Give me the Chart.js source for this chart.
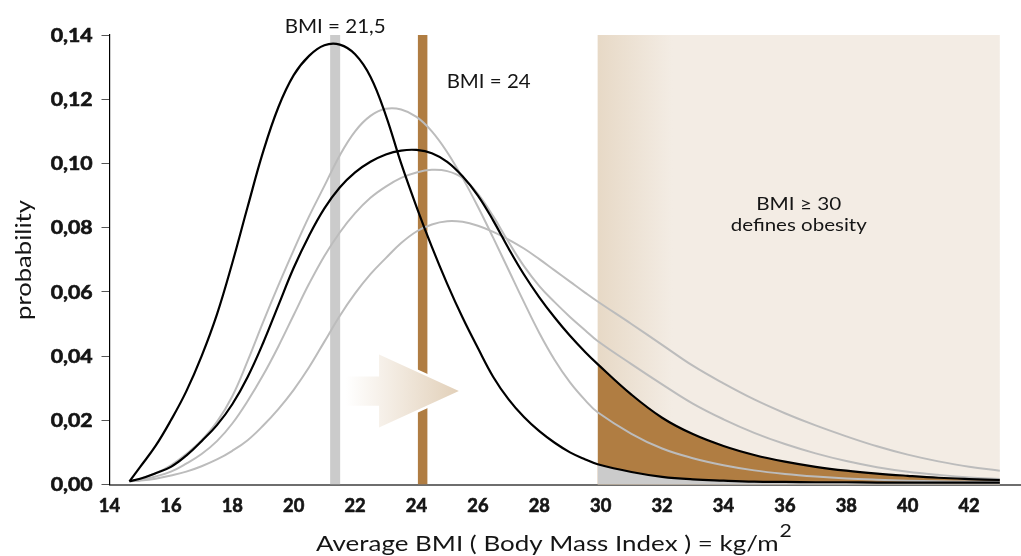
<!DOCTYPE html>
<html>
<head>
<meta charset="utf-8">
<script src="https://cdn.jsdelivr.net/npm/chart.js@4.4.1/dist/chart.umd.min.js"></script>
<style>
html,body{margin:0;padding:0;background:#fff;}
canvas{display:block;}
</style>
</head>
<body>
<canvas id="c" width="1021" height="556"></canvas>
<script>
// ---- data ----
const bmi = [14.65, 15, 15.5, 16, 16.5, 17, 17.5, 18, 18.5, 19, 19.5, 20, 20.5, 21, 21.5, 22, 22.5, 23, 23.5, 24, 24.5, 25, 25.5, 26, 26.5, 27, 27.5, 28, 28.5, 29, 29.5, 29.9, 31, 32, 33, 34, 35, 36, 37, 38, 39, 40, 41, 42, 43];

const blackTall = [0.001, 0.0055, 0.012, 0.020, 0.029, 0.040, 0.053, 0.069, 0.0865, 0.1035, 0.1175, 0.1275, 0.1335, 0.1368, 0.1370, 0.1340, 0.127, 0.115, 0.100, 0.0865, 0.074, 0.0625, 0.052, 0.0425, 0.0335, 0.0265, 0.021, 0.0166, 0.013, 0.010, 0.0078, 0.0063, 0.0039, 0.0024, 0.0016, 0.0012, 0.0009, 0.0008, 0.0007, 0.0007, 0.0006, 0.0006, 0.0006, 0.0006, 0.0006];

const blackLow = [0.001, 0.0018, 0.0035, 0.0055, 0.009, 0.0135, 0.0185, 0.025, 0.0335, 0.044, 0.0558, 0.0675, 0.0775, 0.086, 0.0925, 0.0972, 0.1005, 0.1028, 0.1040, 0.1042, 0.1032, 0.1005, 0.096, 0.090, 0.0822, 0.0735, 0.0654, 0.0583, 0.052, 0.0463, 0.0412, 0.0375, 0.028, 0.0208, 0.0157, 0.012, 0.0092, 0.0071, 0.0055, 0.0043, 0.0034, 0.0027, 0.0021, 0.0017, 0.0014];

const grayHigh = [0.001, 0.0018, 0.0035, 0.006, 0.0095, 0.0138, 0.0195, 0.0275, 0.0385, 0.0505, 0.0620, 0.0730, 0.0835, 0.0930, 0.1025, 0.1100, 0.1148, 0.1170, 0.1168, 0.1145, 0.1100, 0.1035, 0.0955, 0.0865, 0.0768, 0.0668, 0.0568, 0.0472, 0.0388, 0.0318, 0.0262, 0.0225, 0.0158, 0.0112, 0.0082, 0.0060, 0.0044, 0.0033, 0.0025, 0.0019, 0.0015, 0.0012, 0.001, 0.0009, 0.0008];

const grayMid = [0.001, 0.0014, 0.0025, 0.004, 0.0065, 0.0095, 0.0135, 0.019, 0.026, 0.034, 0.043, 0.0528, 0.0625, 0.0712, 0.0785, 0.0845, 0.0893, 0.0928, 0.0955, 0.0972, 0.0980, 0.0976, 0.0955, 0.0905, 0.0835, 0.0755, 0.0680, 0.0618, 0.0568, 0.0522, 0.0480, 0.0447, 0.0375, 0.0312, 0.0252, 0.0203, 0.0161, 0.0126, 0.0097, 0.0073, 0.0054, 0.0040, 0.0030, 0.0022, 0.0017];

const grayFlat = [0.001, 0.0012, 0.0018, 0.0028, 0.004, 0.0057, 0.0078, 0.0105, 0.0138, 0.0183, 0.0235, 0.0295, 0.0365, 0.0445, 0.0525, 0.0595, 0.0655, 0.0705, 0.0752, 0.0788, 0.081, 0.082, 0.0818, 0.0806, 0.0787, 0.0763, 0.0735, 0.0702, 0.0667, 0.0632, 0.0597, 0.0570, 0.050, 0.0435, 0.037, 0.0315, 0.0265, 0.0222, 0.0184, 0.015, 0.0119, 0.0093, 0.0072, 0.0055, 0.0043];

const xTicks = [14, 16, 18, 20, 22, 24, 26, 28, 30, 32, 34, 36, 38, 40, 42];
const yTicks = [0, 0.02, 0.04, 0.06, 0.08, 0.10, 0.12, 0.14];

const refBMI = [21.35, 24.2];
const refLabels = ['BMI = 21,5', 'BMI = 24'];
const obesityFrom = 29.9;
const obesityTo = 43;
const obesityLabels = ['BMI \u2265 30', 'defines obesity'];
const arrowFrom = 21.7, arrowHeadBase = 22.78, arrowTo = 25.38, arrowLevel = 0.0291;
const yTitle = 'probability';
const xTitle = 'Average BMI ( Body Mass Index ) = kg/m';
const xTitleSup = '2';

// ---- helpers ----
const pts = s => bmi.map((x, i) => ({x: x, y: s[i]}));
const tailStart = bmi.indexOf(obesityFrom);
const tail = s => pts(s).slice(tailStart);
const vbar = x => [{x: x, y: 0}, {x: x, y: 0.14}];

const BROWN = '#b07d42';
const GRAYBAR = '#cbcbcb';
const GRAYLINE = '#bcbcbc';
const FONT = 'Lato, "Open Sans", sans-serif';
const TXT = '#151515';

function stretchText(ctx, str, x, y, font, o) {
  ctx.save();
  ctx.font = font;
  const w = ctx.measureText(str).width;
  const sx = o.width ? o.width / w : (o.sx || 1);
  const tw = w * sx;
  let x0 = x;
  if (o.align === 'center') x0 = x - tw / 2;
  else if (o.align === 'right') x0 = x - tw;
  ctx.translate(x0, y);
  ctx.scale(sx, 1);
  ctx.textAlign = 'left';
  ctx.textBaseline = 'alphabetic';
  ctx.fillStyle = o.color || TXT;
  ctx.fillText(str, 0, 0);
  if (o.bold) { ctx.lineWidth = o.bold; ctx.strokeStyle = o.color || TXT; ctx.strokeText(str, 0, 0); }
  ctx.restore();
  return tw;
}

const decor = {
  id: 'decor',
  beforeDatasetsDraw(chart) {
    const {ctx, scales: {x, y}} = chart;
    const l = x.getPixelForValue(obesityFrom), r = x.getPixelForValue(obesityTo);
    const t = y.getPixelForValue(0.14), b = y.getPixelForValue(0);
    const g = ctx.createLinearGradient(l, 0, l + 75, 0);
    g.addColorStop(0, '#e7d9c6');
    g.addColorStop(1, '#f3ece4');
    ctx.save();
    ctx.fillStyle = g;
    ctx.fillRect(l, t, r - l, b - t);
    ctx.restore();
  },
  afterDatasetsDraw(chart) {
    const {ctx, scales: {x, y}} = chart;
    const x0 = x.getPixelForValue(arrowFrom), xb = x.getPixelForValue(arrowHeadBase), x1 = x.getPixelForValue(arrowTo);
    const yc = y.getPixelForValue(arrowLevel);
    const sh = 14.6, hh = 36.5;
    ctx.save();
    ctx.beginPath();
    ctx.moveTo(x0, yc - sh);
    ctx.lineTo(xb, yc - sh);
    ctx.lineTo(xb, yc - hh);
    ctx.lineTo(x1, yc);
    ctx.lineTo(xb, yc + hh);
    ctx.lineTo(xb, yc + sh);
    ctx.lineTo(x0, yc + sh);
    ctx.closePath();
    ctx.lineJoin = 'miter';
    ctx.lineWidth = 5;
    ctx.strokeStyle = '#ffffff';
    ctx.stroke();
    const g = ctx.createLinearGradient(x0, 0, x1, 0);
    g.addColorStop(0, '#ffffff');
    g.addColorStop(1, '#e2d0b9');
    ctx.fillStyle = g;
    ctx.fill();
    ctx.restore();
  },
  afterDraw(chart) {
    const {ctx, chartArea: ca, scales: {x, y}} = chart;
    // y tick labels
    yTicks.forEach(v => {
      const py = y.getPixelForValue(v);
      stretchText(ctx, v.toFixed(2).replace('.', ','), ca.left - 16.8, py + 6.8, 'bold 18px ' + FONT, {align: 'right', width: 42, bold: 0.6});
    });
    // x tick labels
    xTicks.forEach(v => {
      const px = x.getPixelForValue(v);
      stretchText(ctx, String(v), px, ca.bottom + 27.2, 'bold 18px ' + FONT, {align: 'center', sx: 1.02, bold: 0.6});
    });
    // reference labels
    const g1 = x.getPixelForValue(refBMI[0]);
    stretchText(ctx, refLabels[0], g1, ca.top - 2, '19px ' + FONT, {align: 'center', width: 101});
    const g2 = x.getPixelForValue(refBMI[1]);
    stretchText(ctx, refLabels[1], g2 + 24, ca.top + 53, '19px ' + FONT, {align: 'left', width: 84});
    // obesity text
    const oc = (x.getPixelForValue(obesityFrom) + x.getPixelForValue(obesityTo)) / 2;
    stretchText(ctx, obesityLabels[0], oc, 210, '18px ' + FONT, {align: 'center', width: 85});
    stretchText(ctx, obesityLabels[1], oc, 231, '18px ' + FONT, {align: 'center', width: 136});
    // y title (rotated)
    ctx.save();
    ctx.translate(31, 260);
    ctx.rotate(-Math.PI / 2);
    stretchText(ctx, yTitle, 0, 0, '21px ' + FONT, {align: 'center', width: 120});
    ctx.restore();
    // x title with superscript
    ctx.save();
    ctx.font = '22px ' + FONT;
    const w1 = ctx.measureText(xTitle).width;
    ctx.font = '18px ' + FONT;
    const w2 = ctx.measureText(xTitleSup).width;
    ctx.restore();
    const sx = 476 / (w1 + w2 + 1);
    const left = 316;
    stretchText(ctx, xTitle, left, 550.5, '22px ' + FONT, {align: 'left', sx: sx});
    stretchText(ctx, xTitleSup, left + w1 * sx + 1, 537, '18px ' + FONT, {align: 'left', sx: sx});
  }
};

const lineDs = (data, color, width) => ({
  data: data, borderColor: color, borderWidth: width, fill: false,
  pointRadius: 0, tension: 0.4, cubicInterpolationMode: 'default'
});

new Chart(document.getElementById('c'), {
  type: 'line',
  data: {
    datasets: [
      lineDs(pts(blackTall), '#000000', 2.2),
      lineDs(pts(blackLow), '#000000', 2.2),
      lineDs(pts(grayHigh), GRAYLINE, 2),
      lineDs(pts(grayMid), GRAYLINE, 2),
      lineDs(pts(grayFlat), GRAYLINE, 2),
      {data: vbar(refBMI[0]), borderColor: GRAYBAR, borderWidth: 10, borderCapStyle: 'butt', pointRadius: 0, fill: false},
      {data: vbar(refBMI[1]), borderColor: BROWN, borderWidth: 9.5, borderCapStyle: 'butt', pointRadius: 0, fill: false},
      {data: tail(blackTall), borderWidth: 0, borderColor: 'rgba(0,0,0,0)', backgroundColor: GRAYBAR, fill: 'origin', pointRadius: 0, tension: 0.4},
      {data: tail(blackLow), borderWidth: 0, borderColor: 'rgba(0,0,0,0)', backgroundColor: BROWN, fill: 'origin', pointRadius: 0, tension: 0.4}
    ]
  },
  options: {
    responsive: false,
    animation: false,
    events: [],
    layout: {padding: {top: 35, left: 0, right: 0, bottom: 0}},
    plugins: {legend: {display: false}, tooltip: {enabled: false}},
    scales: {
      x: {
        type: 'linear', min: 14, max: 43.69, z: 1,
        afterFit(s) { s.height = 71.5; },
        afterBuildTicks(s) { s.ticks = xTicks.map(v => ({value: v})); },
        ticks: {display: false},
        grid: {display: false, drawTicks: false},
        border: {display: true, color: '#6e6e6e', width: 2}
      },
      y: {
        type: 'linear', min: 0, max: 0.14,
        afterFit(s) { s.width = 109.5; },
        afterBuildTicks(s) { s.ticks = yTicks.map(v => ({value: v})); },
        ticks: {display: false},
        grid: {display: true, drawOnChartArea: false, drawTicks: true, tickLength: 8, color: '#555555', lineWidth: 1},
        border: {display: true, color: '#000000', width: 1.2}
      }
    }
  },
  plugins: [decor]
});
</script>
</body>
</html>
